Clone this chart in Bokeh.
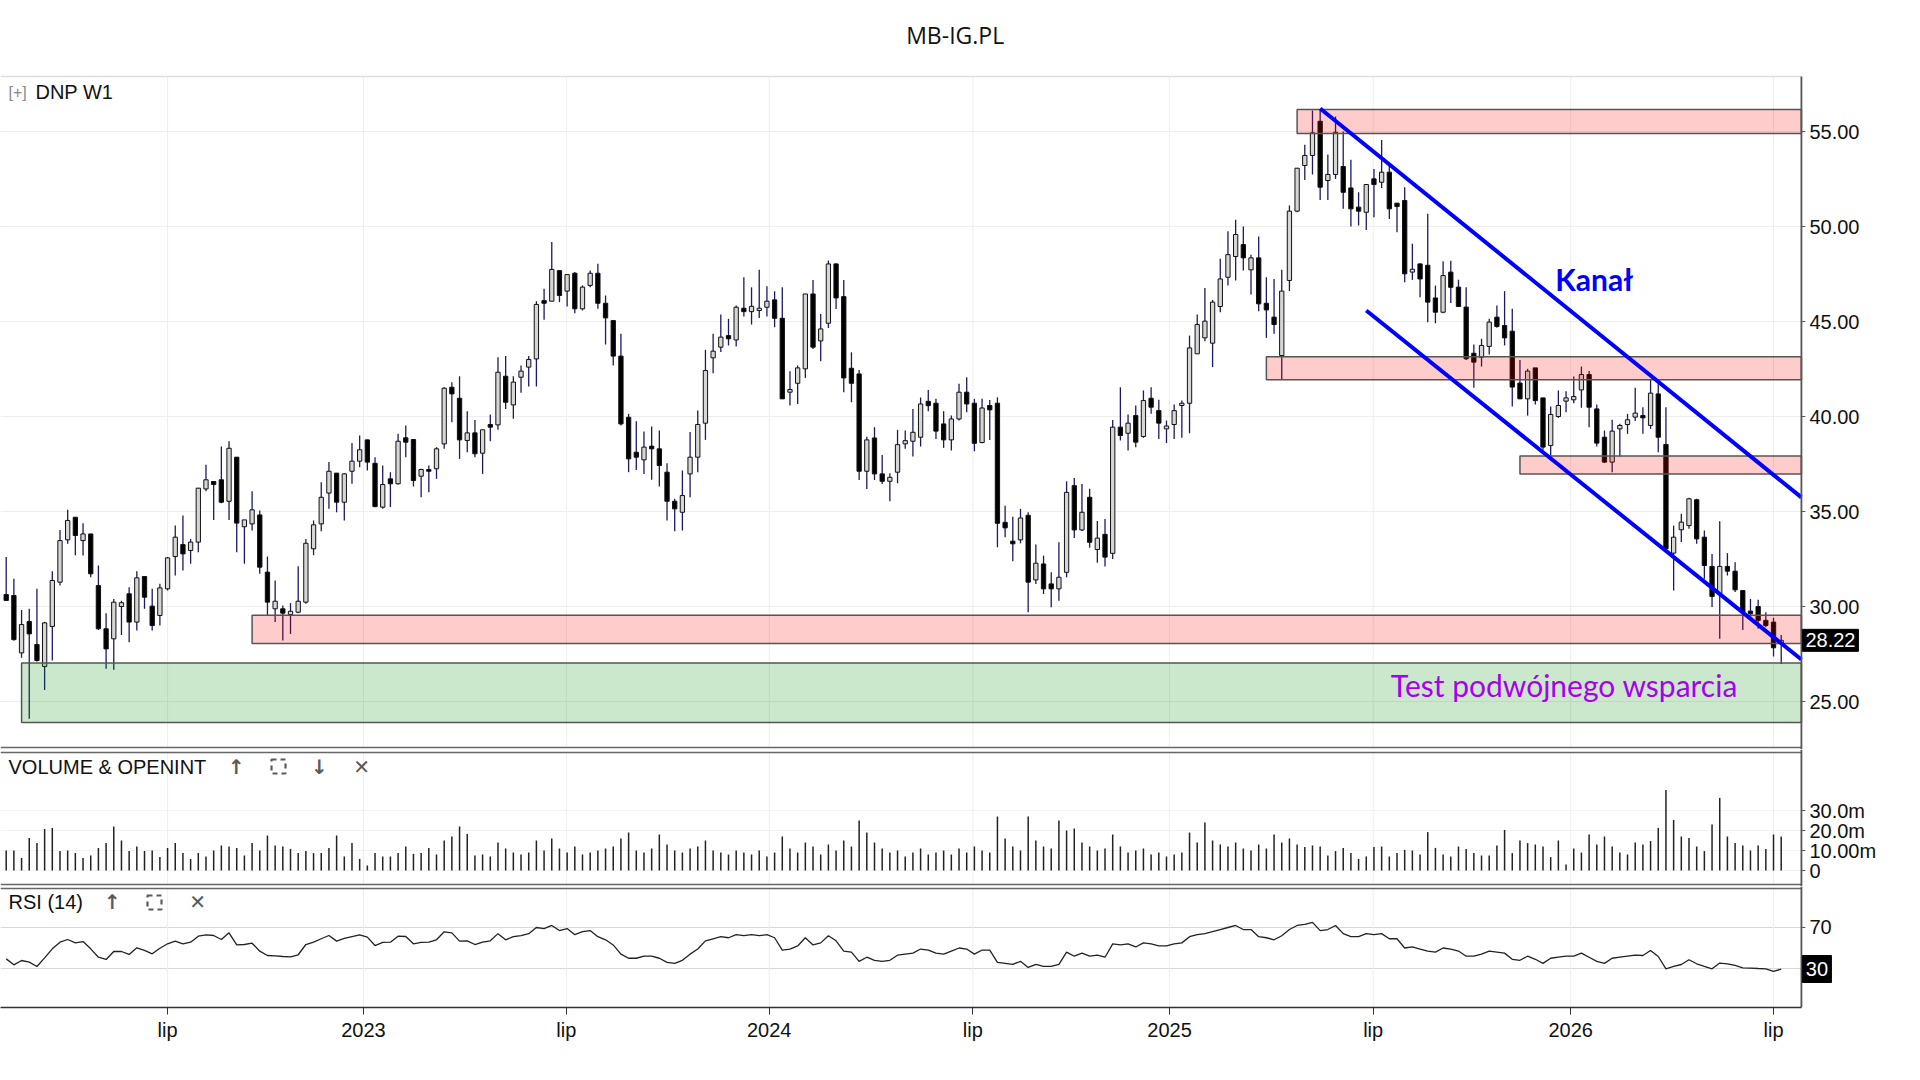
import numpy as np
from bokeh.plotting import figure
from bokeh.layouts import column
from bokeh.models import ColumnDataSource, FixedTicker, Range1d
from bokeh.core.properties import value
from bokeh.embed import file_html
from bokeh.resources import INLINE

# ---------------- data (weekly candles, DNP W1) ----------------
opens = [30.63, 30.58, 27.56, 29.21, 28.00, 26.84, 28.95, 31.28, 33.51, 34.70,
         33.47, 33.82, 31.10, 28.83, 28.30, 30.00, 30.67, 29.18, 31.58, 30.02,
         29.53, 30.93, 32.63, 33.26, 32.95, 33.39, 36.19, 36.58, 36.67, 35.54,
         37.86, 34.20, 34.35, 34.82, 31.81, 29.88, 29.88, 29.58, 29.70, 30.23,
         33.04, 34.35, 35.97, 37.02, 35.49, 37.12, 37.65, 38.77, 37.54, 35.23,
         36.72, 36.46, 38.88, 38.79, 36.86, 37.21, 37.25, 38.56, 41.54, 40.96,
         38.74, 39.14, 38.07, 39.58, 39.56, 42.12, 40.61, 42.07, 42.60, 43.03,
         46.10, 46.07, 47.68, 46.60, 47.54, 45.67, 46.90, 47.54, 45.96, 45.05,
         43.18, 39.96, 38.12, 37.72, 38.44, 38.30, 37.07, 35.54, 34.96, 36.98,
         37.86, 39.65, 43.09, 43.65, 44.26, 44.03, 45.70, 45.52, 45.58, 45.75,
         46.14, 45.17, 41.28, 41.75, 42.51, 46.45, 43.98, 44.91, 48.03, 46.31,
         42.54, 42.24, 37.12, 38.87, 36.98, 36.59, 37.07, 38.56, 38.70, 38.91,
         40.80, 40.70, 39.61, 38.77, 39.87, 41.28, 40.70, 38.63, 40.58, 40.70,
         34.43, 33.44, 33.51, 34.80, 31.40, 32.24, 31.19, 30.93, 31.80, 36.36,
         34.03, 35.75, 33.00, 33.80, 32.80, 39.44, 39.12, 40.05, 38.95, 40.96,
         40.31, 39.35, 39.58, 40.58, 40.70, 43.30, 44.14, 43.86, 45.79, 47.33,
         48.42, 49.05, 47.72, 48.35, 45.96, 45.23, 43.21, 47.16, 50.81, 53.21,
         53.74, 55.54, 52.42, 52.74, 53.16, 52.03, 51.02, 50.75, 52.51, 52.33,
         52.86, 51.23, 51.37, 47.60, 48.03, 47.96, 46.24, 45.49, 47.60, 46.81,
         45.76, 43.33, 43.12, 43.69, 45.23, 44.79, 44.49, 41.76, 40.93, 42.56,
         40.98, 38.47, 40.00, 40.81, 40.88, 41.40, 42.21, 40.40, 38.91, 37.60,
         39.35, 39.58, 39.97, 40.05, 39.53, 41.19, 38.53, 32.81, 34.04, 34.26,
         35.62, 33.65, 32.11, 30.67, 32.11, 31.86, 30.84, 29.76, 30.00, 29.27,
         29.18, 28.05]
highs = [32.60, 31.46, 29.82, 29.88, 30.93, 29.20, 31.86, 34.03, 35.09, 34.70,
         34.38, 33.82, 32.16, 29.65, 30.40, 30.30, 31.02, 31.86, 31.58, 30.93,
         31.20, 32.60, 34.26, 34.79, 33.56, 36.23, 37.46, 36.58, 38.42, 38.70,
         37.86, 34.56, 36.07, 35.05, 32.63, 31.37, 30.05, 30.18, 32.12, 33.56,
         34.53, 36.54, 37.60, 37.02, 37.02, 38.60, 39.00, 38.79, 37.86, 37.42,
         37.07, 39.09, 39.53, 38.79, 37.25, 37.42, 38.39, 41.54, 41.81, 42.12,
         40.28, 39.82, 39.30, 40.11, 43.12, 43.18, 42.12, 42.68, 43.18, 46.07,
         46.72, 49.18, 47.68, 47.47, 47.60, 46.90, 47.68, 48.04, 46.37, 45.05,
         44.35, 40.14, 39.75, 39.21, 39.47, 39.26, 37.54, 35.67, 37.16, 39.18,
         40.32, 43.51, 44.35, 45.37, 45.14, 45.84, 47.33, 46.80, 47.72, 46.86,
         46.59, 46.80, 42.38, 42.68, 46.45, 47.19, 45.40, 48.21, 48.07, 47.19,
         43.38, 42.45, 38.94, 39.44, 37.98, 37.01, 39.30, 39.26, 40.40, 41.00,
         41.40, 40.93, 40.28, 40.05, 41.72, 42.07, 40.93, 40.93, 40.87, 41.01,
         35.31, 34.73, 35.14, 34.96, 33.26, 32.68, 31.80, 33.38, 36.59, 36.77,
         36.45, 36.20, 34.50, 34.60, 39.82, 41.54, 40.10, 40.58, 41.37, 41.54,
         40.88, 39.79, 40.63, 40.84, 44.26, 45.37, 46.77, 46.14, 48.30, 49.75,
         50.35, 50.00, 48.52, 49.47, 47.33, 47.24, 47.72, 51.10, 53.07, 54.30,
         56.10, 56.14, 53.79, 55.79, 55.00, 53.51, 51.80, 52.24, 53.03, 54.56,
         53.33, 51.23, 52.07, 49.09, 48.07, 50.67, 46.89, 48.17, 48.20, 47.20,
         46.81, 43.79, 44.09, 45.14, 45.84, 46.60, 45.67, 42.98, 42.51, 42.56,
         40.98, 40.53, 41.37, 41.33, 42.10, 42.63, 42.39, 40.63, 39.26, 39.83,
         39.62, 40.14, 41.51, 40.49, 41.93, 41.93, 40.49, 34.26, 34.88, 35.72,
         35.67, 34.00, 32.77, 34.49, 32.81, 32.33, 30.84, 30.40, 30.35, 29.70,
         29.41, 28.50]
lows = [30.30, 28.20, 27.30, 24.09, 27.10, 25.60, 27.16, 31.10, 33.30, 32.70,
        32.68, 31.54, 28.77, 26.72, 26.67, 28.50, 28.12, 28.74, 29.88, 28.74,
        29.00, 30.84, 31.63, 31.90, 32.25, 32.86, 36.07, 34.56, 35.44, 34.56,
        32.86, 32.25, 34.00, 31.72, 29.53, 29.18, 28.21, 28.56, 29.65, 30.14,
        32.70, 33.96, 35.14, 34.96, 34.53, 36.46, 37.33, 37.16, 35.23, 35.14,
        35.23, 36.42, 37.86, 36.32, 35.75, 36.02, 36.72, 38.30, 39.70, 37.77,
        38.12, 37.86, 36.98, 38.70, 39.30, 40.40, 39.88, 41.25, 41.58, 41.58,
        45.09, 46.07, 46.02, 45.79, 45.44, 45.58, 46.81, 45.67, 43.79, 42.68,
        39.53, 37.07, 37.19, 36.98, 36.67, 36.32, 34.53, 33.96, 34.00, 35.75,
        37.07, 38.77, 42.28, 43.39, 43.74, 43.68, 45.26, 44.84, 45.19, 45.26,
        44.70, 40.93, 40.58, 40.66, 42.03, 43.56, 42.91, 44.66, 45.66, 41.28,
        40.75, 36.66, 36.19, 36.66, 36.45, 35.54, 36.49, 38.30, 37.89, 38.42,
        40.28, 38.82, 38.35, 38.21, 39.79, 40.23, 38.17, 38.59, 38.77, 33.12,
        33.65, 32.38, 33.33, 29.70, 31.19, 30.66, 29.96, 30.31, 31.54, 33.61,
        33.98, 33.10, 32.30, 32.10, 32.50, 38.74, 38.21, 38.38, 38.88, 40.14,
        38.82, 38.60, 38.82, 38.88, 39.12, 43.30, 43.96, 42.60, 45.49, 46.89,
        47.16, 47.68, 46.42, 45.54, 44.14, 44.35, 41.98, 46.60, 50.75, 52.45,
        52.74, 51.40, 51.40, 52.50, 50.93, 50.00, 50.05, 49.82, 50.49, 52.03,
        50.40, 49.70, 47.07, 47.19, 46.28, 44.96, 44.91, 45.44, 45.97, 45.76,
        42.98, 41.51, 42.63, 43.26, 44.67, 43.74, 40.53, 40.93, 40.05, 40.63,
        38.25, 37.95, 39.93, 40.23, 40.70, 40.46, 39.44, 38.42, 37.55, 37.07,
        37.90, 39.09, 39.76, 39.09, 39.35, 38.12, 32.86, 30.84, 33.39, 34.09,
        33.30, 31.46, 29.97, 28.30, 31.63, 30.76, 28.77, 29.44, 28.83, 28.91,
        27.37, 26.98]
closes = [30.32, 28.26, 29.05, 28.56, 27.16, 29.14, 31.37, 33.47, 34.53, 33.74,
          33.82, 31.72, 28.83, 27.77, 30.23, 30.20, 29.18, 31.51, 30.49, 29.00,
          30.98, 32.56, 33.65, 32.77, 33.39, 36.23, 36.67, 36.42, 35.49, 38.33,
          34.39, 34.56, 35.09, 32.07, 30.23, 30.28, 29.65, 29.75, 30.28, 33.33,
          34.30, 35.75, 37.12, 35.49, 36.98, 37.65, 38.25, 37.60, 35.26, 36.42,
          36.46, 38.70, 38.65, 36.63, 37.21, 37.12, 38.30, 41.49, 41.19, 38.77,
          39.14, 38.04, 39.30, 39.44, 42.33, 40.75, 41.81, 42.39, 43.00, 45.90,
          45.96, 47.74, 46.37, 47.47, 45.67, 46.81, 47.54, 45.96, 45.19, 43.18,
          39.61, 37.77, 37.86, 38.39, 38.30, 37.42, 35.54, 35.14, 35.84, 37.86,
          39.58, 42.42, 43.44, 44.18, 44.09, 45.75, 45.52, 45.80, 45.70, 46.07,
          45.17, 40.93, 41.42, 42.56, 46.45, 43.65, 44.61, 48.03, 46.24, 42.03,
          41.75, 37.12, 38.77, 36.98, 36.59, 36.80, 38.52, 38.73, 39.17, 40.66,
          40.57, 39.23, 38.77, 39.87, 41.28, 40.66, 38.59, 40.45, 40.35, 34.38,
          34.14, 33.30, 34.66, 31.28, 32.28, 30.93, 30.93, 31.54, 36.01, 34.03,
          34.96, 33.38, 33.60, 32.60, 39.44, 39.00, 39.65, 38.65, 40.84, 40.49,
          39.65, 39.50, 40.31, 40.70, 43.61, 44.84, 45.02, 46.02, 47.24, 48.52,
          49.58, 48.35, 48.35, 45.93, 45.61, 44.84, 46.60, 50.81, 53.07, 53.74,
          54.93, 52.07, 52.74, 54.96, 51.80, 50.93, 50.81, 52.21, 52.21, 52.86,
          50.93, 51.05, 47.51, 47.75, 47.24, 46.02, 45.49, 47.42, 46.80, 45.79,
          43.04, 42.86, 43.74, 44.97, 44.74, 44.14, 41.55, 40.93, 42.39, 40.84,
          38.39, 40.11, 40.58, 40.98, 41.05, 42.21, 40.49, 38.60, 37.60, 39.23,
          39.53, 39.83, 40.18, 39.93, 41.23, 38.91, 33.04, 33.65, 34.44, 35.67,
          33.56, 32.16, 30.53, 32.11, 31.86, 30.88, 29.70, 29.62, 29.27, 29.00,
          27.83, 28.22]
# volume in millions
volume_m = [10.0, 10.0, 6.3, 16.3, 13.7, 20.7, 21.3, 9.7, 10.0, 8.7,
            6.3, 7.5, 11.3, 13.7, 22.0, 15.0, 9.7, 12.0, 9.7, 10.0,
            6.7, 11.3, 13.7, 8.7, 5.8, 8.7, 7.0, 10.0, 12.5, 12.0,
            11.3, 7.5, 13.7, 10.0, 17.5, 12.5, 12.0, 10.8, 8.7, 9.7,
            8.7, 8.7, 11.3, 17.5, 7.0, 13.7, 5.8, 2.5, 8.7, 7.0,
            7.0, 8.7, 12.0, 8.3, 8.7, 11.3, 8.0, 15.0, 17.0, 22.0,
            18.3, 7.5, 8.0, 7.0, 14.0, 11.0, 9.0, 8.0, 9.0, 15.0,
            10.0, 16.0, 11.0, 9.0, 12.0, 8.0, 9.0, 10.0, 11.0, 12.0,
            16.0, 19.0, 10.0, 9.0, 11.0, 18.0, 13.0, 10.0, 9.0, 11.0,
            12.0, 15.0, 10.0, 9.0, 8.0, 10.0, 9.0, 8.0, 10.0, 7.0,
            9.0, 17.0, 11.0, 9.0, 14.0, 12.0, 8.0, 13.0, 10.0, 15.0,
            12.0, 25.0, 19.0, 14.0, 11.0, 9.0, 10.0, 7.0, 9.0, 11.0,
            8.0, 9.0, 10.0, 8.0, 11.0, 9.0, 12.0, 10.0, 9.0, 27.0,
            16.0, 12.0, 10.0, 27.0, 15.0, 12.0, 11.0, 25.0, 20.0, 21.0,
            14.0, 12.0, 10.0, 11.0, 18.0, 12.0, 9.0, 10.0, 11.0, 8.0,
            9.0, 7.0, 8.0, 9.0, 19.0, 14.0, 24.0, 15.0, 13.0, 12.0,
            14.0, 11.0, 10.0, 13.0, 11.0, 18.0, 14.0, 16.0, 13.0, 11.7,
            12.5, 12.0, 7.5, 9.7, 11.3, 8.7, 5.8, 7.0, 11.7, 12.0,
            7.0, 8.7, 10.3, 10.0, 8.0, 19.2, 11.3, 8.0, 7.0, 12.0,
            10.7, 8.7, 7.5, 7.5, 12.5, 20.3, 8.7, 15.0, 13.7, 13.0,
            12.0, 6.7, 15.0, 3.0, 11.0, 9.0, 18.0, 13.0, 17.0, 12.0,
            9.0, 8.0, 14.0, 13.0, 14.7, 21.3, 40.3, 25.3, 17.0, 16.3,
            12.0, 9.7, 23.0, 36.3, 17.0, 13.7, 12.5, 10.0, 12.5, 10.8,
            18.0, 17.0]
rsi = [39.4, 33.6, 37.8, 36.2, 32.0, 40.4, 49.2, 55.7, 58.3, 55.0,
       56.3, 49.2, 41.0, 38.8, 46.6, 46.6, 43.7, 50.2, 47.6, 44.3,
       49.8, 54.1, 56.7, 54.1, 55.7, 61.5, 62.9, 62.2, 58.3, 64.8,
       53.1, 53.4, 54.7, 46.9, 42.7, 42.4, 41.7, 41.4, 43.4, 53.4,
       55.7, 59.0, 62.2, 56.7, 59.3, 61.2, 62.9, 60.6, 52.4, 55.4,
       55.7, 61.5, 61.2, 54.1, 55.4, 55.7, 58.0, 65.8, 64.8, 56.7,
       57.0, 53.4, 55.7, 57.0, 64.0, 58.0, 61.0, 62.0, 64.0, 70.0,
       69.0, 72.0, 67.0, 69.0, 63.0, 66.0, 67.0, 61.0, 58.0, 53.0,
       44.0, 40.0, 40.0, 42.0, 42.0, 40.0, 36.0, 35.0, 38.0, 44.0,
       49.0, 57.0, 59.0, 61.0, 60.0, 63.0, 62.0, 63.0, 62.0, 63.0,
       60.0, 48.0, 49.0, 52.0, 60.0, 53.0, 55.0, 62.0, 57.0, 47.0,
       46.0, 37.0, 41.0, 38.0, 37.0, 38.0, 43.0, 44.0, 45.0, 49.0,
       48.0, 45.0, 44.0, 47.0, 50.0, 49.0, 44.0, 48.0, 48.0, 36.0,
       35.0, 34.0, 37.0, 31.0, 34.0, 32.0, 32.0, 34.0, 46.0, 42.0,
       45.0, 42.0, 43.0, 41.0, 54.0, 53.0, 54.0, 51.0, 55.0, 54.0,
       52.0, 52.0, 54.0, 55.0, 61.0, 63.0, 64.0, 66.0, 68.0, 70.0,
       72.0, 68.0, 68.0, 61.0, 60.0, 58.0, 62.0, 68.0, 72.0, 73.0,
       75.0, 67.0, 68.0, 72.0, 64.0, 61.0, 61.0, 64.0, 63.0, 64.0,
       59.0, 59.0, 50.0, 51.0, 49.0, 47.0, 46.0, 50.0, 49.0, 47.0,
       42.0, 42.0, 44.0, 47.0, 46.0, 45.0, 39.0, 38.0, 42.0, 39.0,
       35.0, 40.0, 41.0, 42.0, 42.0, 45.0, 41.0, 37.0, 35.0, 40.0,
       41.0, 42.0, 43.0, 42.7, 47.6, 41.7, 29.7, 32.0, 33.9, 38.5,
       34.6, 32.0, 29.7, 35.3, 34.6, 33.0, 30.7, 30.4, 30.0, 29.7,
       27.1, 29.4]

tick_pos = [21.0, 46.5, 72.9, 99.3, 125.8, 151.4, 177.9, 203.6, 230.0]
tick_labels = ["lip", "2023", "lip", "2024", "lip", "2025", "lip", "2026", "lip"]
price_ticks = [25, 30, 35, 40, 45, 50, 55]
vol_ticks = [0, 10, 20, 30]
vol_tick_labels = ["0", "10.00m", "20.0m", "30.0m"]
rsi_ticks = [30, 70]
rsi_tick_labels = ["", "70"]

# support / resistance zones
zone_left = [2, 32, 164, 168, 197]
zone_bottom = [23.90, 28.06, 41.93, 54.90, 36.97]
zone_top = [27.03, 29.54, 43.14, 56.16, 37.92]
zone_kind = ["green", "red", "red", "red", "red"]

# channel ("Kanał") lines: start (candle index, price) and slope per candle
channel_start_x = [171.0, 177.0]
channel_start_y = [56.21, 45.58]
channel_slope = [-0.3268, -0.3244]

last_price = 28.22
last_rsi_label = "30"

# ---------------- layout constants ----------------
PXU = 7.684                    # pixels per candle slot
X0 = -0.742                    # left edge of plot area (candle units)
X1 = 233.63                    # right edge of plot area / price axis
FIG_W = 1900
XF = X0 + FIG_W / PXU          # frame spans the whole figure width
AXIS_FONT = "Liberation Sans"
AX_COL = "#555555"
GRID_COL = "#eeeeee"
ICON_COL = "#5a5a5a"

idx = np.arange(len(closes))
up = np.array(closes) >= np.array(opens)
src = ColumnDataSource(dict(
    x=idx, high=highs, low=lows,
    top=np.maximum(opens, closes), bottom=np.minimum(opens, closes),
    fill=np.where(up, "#d6d6d6", "#000000"),
))


def make_fig(height, y0, y1, bottom_border=0, with_x=False):
    p = figure(width=FIG_W, height=height, x_range=Range1d(X0, XF),
               y_range=Range1d(y0, y1), y_axis_location=None,
               x_axis_location="below" if with_x else None,
               output_backend="svg", toolbar_location=None, title=None,
               min_border_left=0, min_border_right=0, min_border_top=0,
               min_border_bottom=bottom_border, outline_line_color=None,
               background_fill_color="white", border_fill_color="white")
    p.grid.grid_line_color = None
    return p


def panel_frame(p, ybot, ytop, yticks, ylabels, hgrid_col=GRID_COL,
                top_col="#666666"):
    n = len(yticks)
    p.segment(x0=[X0] * n, y0=yticks, x1=[X1] * n, y1=yticks,
              line_color=hgrid_col, line_width=1)
    m = len(tick_pos)
    p.segment(x0=tick_pos, y0=[ybot] * m, x1=tick_pos, y1=[ytop] * m,
              line_color=GRID_COL, line_width=1)
    p.segment(x0=[X0], y0=[ytop], x1=[X1], y1=[ytop], line_color=top_col,
              line_width=1.5)
    p.segment(x0=[X1] * n, y0=yticks, x1=[X1 + 4 / PXU] * n, y1=yticks,
              line_color=AX_COL, line_width=1)
    p.text(x=[X1 + 8 / PXU] * n, y=yticks, text=ylabels,
           text_font=value(AXIS_FONT), text_font_size="20px",
           text_color="#111111", text_baseline="middle", text_align="left")


def axis_line(p, ybot, ytop):
    p.segment(x0=[X1], y0=[ybot], x1=[X1], y1=[ytop], line_color=AX_COL,
              line_width=1.8)


def header_icons(p, xs, glyphs, y, box_x):
    p.text(x=xs, y=[y] * len(xs), text=glyphs, text_font=value("DejaVu Sans"),
           text_font_size="20px", text_font_style="bold", text_color=ICON_COL,
           text_baseline="middle", text_align="center")
    p.rect(x=[box_x], y=[y], width=14, height=14, width_units="screen",
           height_units="screen", fill_alpha=0, line_color=ICON_COL,
           line_width=2.2, line_dash="5 4")


# ---------------- main price panel (page y 0..749) ----------------
PPX = 19.0
P_TOP_PANEL = 57.895
P_BOT_PANEL = 22.58
PY0 = P_BOT_PANEL - 2 / PPX
PY1 = PY0 + 749 / PPX
p1 = make_fig(749, PY0, PY1)
panel_frame(p1, P_BOT_PANEL, P_TOP_PANEL, price_ticks,
            [f"{t:.2f}" for t in price_ticks], top_col="#dddddd")
p1.segment(x0=[X0], y0=[P_BOT_PANEL], x1=[X1], y1=[P_BOT_PANEL],
           line_color="#666666", line_width=1.5)

p1.segment(x0="x", y0="low", x1="x", y1="high", source=src,
           line_color="#1a1a66", line_width=1.3)
p1.vbar(x="x", width=0.56, top="top", bottom="bottom", source=src,
        fill_color="fill", line_color="#111111", line_width=1)

zfill = ["#008c00" if k == "green" else "#ff0000" for k in zone_kind]
p1.quad(left=zone_left, right=[X1] * len(zone_left), bottom=zone_bottom,
        top=zone_top, fill_color=zfill, fill_alpha=0.2,
        line_color="#555555", line_width=1.5)

cx = [[sx, X1] for sx in channel_start_x]
cy = [[sy, sy + sl * (X1 - sx)] for sx, sy, sl in
      zip(channel_start_x, channel_start_y, channel_slope)]
p1.multi_line(xs=cx, ys=cy, line_color="#0000ff", line_width=4)
axis_line(p1, PY0, P_TOP_PANEL)

p1.text(x=[201.6], y=[47.26], text=["Kanał"], text_font=value("Lato"),
        text_font_style="bold", text_font_size="30px", text_color="#0000ff",
        text_baseline="middle", text_align="left")
p1.text(x=[180.2], y=[25.87], text=["Test podwójnego wsparcia"],
        text_font=value("Lato"), text_font_size="30px", text_color="#a800ee",
        text_baseline="middle", text_align="left")
p1.text(x=[0.3], y=[57.08], text=["[+]"], text_font=value(AXIS_FONT),
        text_font_size="16px", text_color="#888888", text_baseline="middle")
p1.text(x=[3.81], y=[57.08], text=["DNP W1"], text_font=value(AXIS_FONT),
        text_font_size="20px", text_color="#111111", text_baseline="middle")
p1.text(x=[123.5], y=[60.1], text=["MB-IG.PL"], text_font=value("Open Sans"),
        text_font_size="23px", text_color="#111111", text_baseline="middle",
        text_align="center")
p1.rect(x=[X1 + 29 / PXU], y=[last_price], width=56, height=22,
        width_units="screen", height_units="screen", fill_color="black",
        line_color="black")
p1.text(x=[X1 + 29 / PXU], y=[last_price], text=[f"{last_price:.2f}"],
        text_font=value(AXIS_FONT), text_font_size="20px", text_color="white",
        text_baseline="middle", text_align="center")

# ---------------- volume panel (page y 749..886) ----------------
VPX = 2.0
V_TOP_PANEL, V_BOT_PANEL = 59.0, -7.0
VY0 = V_BOT_PANEL - 2 / VPX
VY1 = VY0 + 137 / VPX
p2 = make_fig(137, VY0, VY1)
panel_frame(p2, V_BOT_PANEL, V_TOP_PANEL, vol_ticks, vol_tick_labels,
            hgrid_col="#f2f2f2")
p2.segment(x0=[X0], y0=[V_BOT_PANEL], x1=[X1], y1=[V_BOT_PANEL],
           line_color="#666666", line_width=1.5)
p2.segment(x0=idx, y0=[0] * len(idx), x1=idx, y1=volume_m,
           line_color="#222222", line_width=1.5)
axis_line(p2, VY0, VY1)
p2.text(x=[0.3], y=[52], text=["VOLUME & OPENINT"], text_font=value(AXIS_FONT),
        text_font_size="20px", text_color="#111111", text_baseline="middle")
header_icons(p2, [29.97, 40.77, 46.24], ["↑", "↓", "✕"], 52, 35.44)

# ---------------- RSI panel (page y 886..1057) ----------------
RPX = 1.025
R_TOP_PANEL = 108.05
RY0 = -8.05
RY1 = RY0 + 121 / RPX
p3 = make_fig(121 + 50, RY0, RY1, bottom_border=50, with_x=True)
panel_frame(p3, RY0, R_TOP_PANEL, rsi_ticks, rsi_tick_labels,
            hgrid_col="#d8d8d8")
p3.line(idx, rsi, line_color="#222222", line_width=1.3)
axis_line(p3, RY0, RY1)
xa = p3.xaxis[0]
xa.bounds = (X0, X1)
xa.ticker = FixedTicker(ticks=tick_pos)
xa.major_label_overrides = {t: l for t, l in zip(tick_pos, tick_labels)}
xa.axis_line_color = "#333333"
xa.axis_line_width = 1.5
xa.major_tick_line_color = "#333333"
xa.major_tick_out = 7
xa.major_tick_in = 0
xa.minor_tick_line_color = None
xa.major_label_standoff = 4
xa.major_label_text_font = AXIS_FONT
xa.major_label_text_font_size = "20px"
xa.major_label_text_color = "#111111"
p3.text(x=[0.3], y=[94.4], text=["RSI (14)"], text_font=value(AXIS_FONT),
        text_font_size="20px", text_color="#111111", text_baseline="middle")
header_icons(p3, [13.83, 24.9], ["↑", "✕"], 94.4, 19.3)
p3.rect(x=[X1 + 15.5 / PXU], y=[29.5], width=29, height=27,
        width_units="screen", height_units="screen", fill_color="black",
        line_color="black")
p3.text(x=[X1 + 15.5 / PXU], y=[29.5], text=[last_rsi_label],
        text_font=value(AXIS_FONT), text_font_size="20px", text_color="white",
        text_baseline="middle", text_align="center")

layout = column(p1, p2, p3, spacing=0)
open("out.html", "w").write(file_html(layout, INLINE))
